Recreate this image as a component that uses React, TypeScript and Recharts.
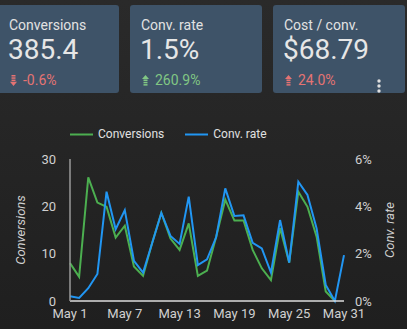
import React from "react";
import { LineChart, Line, XAxis, YAxis } from "recharts";

const days = [
  "May 1", "May 2", "May 3", "May 4", "May 5", "May 6", "May 7", "May 8",
  "May 9", "May 10", "May 11", "May 12", "May 13", "May 14", "May 15", "May 16",
  "May 17", "May 18", "May 19", "May 20", "May 21", "May 22", "May 23", "May 24",
  "May 25", "May 26", "May 27", "May 28", "May 29", "May 30", "May 31",
];

const conversions: (number | null)[] = [
  8.0, 5.1, 26.1, 20.8, 19.9, 13.4, 15.9, 7.3, 5.3, 12.3, 18.6, 13.2, 10.8, 16.4,
  5.3, 6.4, 13.5, 21.4, 17.0, 17.0, 10.8, 6.9, 4.4, 15.4, 8.1, 23.1, 19.9, 13.6,
  2.0, 0, null,
];

const convRate = [
  0.2, 0.13, 0.54, 1.14, 4.62, 3.03, 3.84, 1.7, 1.2, 2.45, 3.72, 2.75, 2.41, 4.41,
  1.52, 1.76, 2.69, 4.76, 3.59, 3.62, 2.46, 2.22, 1.2, 3.42, 1.62, 5.04, 4.48,
  3.07, 0.68, 0, 1.94,
];

const leftTicks = [0, 10, 20, 30];
const rightTicks = [0, 2, 4, 6];

const kpis = [
  { title: "Conversions", value: "385.4", delta: "-0.6%", up: false, good: false },
  { title: "Conv. rate", value: "1.5%", delta: "260.9%", up: true, good: true },
  { title: "Cost / conv.", value: "$68.79", delta: "24.0%", up: true, good: false },
];

const GREEN = "#4caf50";
const BLUE = "#2196f3";
const FONT = "Roboto, 'Noto Sans', sans-serif";

const chartData = days.map((d, i) => ({
  day: d,
  conversions: conversions[i],
  rate: convRate[i],
}));

function Arrow({ up, color }: { up: boolean; color: string }) {
  return (
    <svg width="7" height="11" viewBox="0 0 7 11" style={{ display: "block" }}>
      {up ? (
        <g fill={color}>
          <polygon points="3.5,0 7,4 0,4" />
          <rect x="1.5" y="4.5" width="4" height="1.5" />
          <rect x="1.5" y="6.8" width="4" height="1.5" />
          <rect x="1.5" y="9.1" width="4" height="1.5" />
        </g>
      ) : (
        <g fill={color}>
          <rect x="1.5" y="0" width="4" height="1.5" />
          <rect x="1.5" y="2.3" width="4" height="1.5" />
          <rect x="1.5" y="4.6" width="4" height="1.5" />
          <polygon points="0,6.8 7,6.8 3.5,11" />
        </g>
      )}
    </svg>
  );
}

const cardLefts = [-2, 130, 273];
const cardWidths = [121, 132, 132];

export default function App() {
  return (
    <div
      style={{
        position: "absolute",
        left: 0,
        top: 0,
        width: 407,
        height: 329,
        overflow: "hidden",
        background: "linear-gradient(#2a2a2a, #1f1f1f)",
        fontFamily: FONT,
      }}
    >
      {kpis.map((k, i) => {
        const c = k.good ? "#81c784" : "#e57373";
        return (
          <div
            key={k.title}
            style={{
              position: "absolute",
              left: cardLefts[i],
              top: 5,
              width: cardWidths[i],
              height: 88,
              background: "#3e5368",
              borderRadius: 3,
            }}
          >
            <div style={{ position: "absolute", left: 11, top: 13, fontSize: 14, lineHeight: "14px", color: "#e2e2e2" }}>
              {k.title}
            </div>
            <div style={{ position: "absolute", left: 10, top: 31, fontSize: 28, lineHeight: "28px", color: "#e6e6e6" }}>
              {k.value}
            </div>
            <div style={{ position: "absolute", left: 12, top: 68, display: "flex", alignItems: "center" }}>
              <Arrow up={k.up} color={c} />
              <span style={{ marginLeft: 6, fontSize: 14, lineHeight: "14px", color: c }}>{k.delta}</span>
            </div>
            {i === 2 && (
              <svg width="6" height="14" style={{ position: "absolute", left: 103, top: 74 }}>
                <circle cx="3" cy="2" r="1.7" fill="#e0e0e0" />
                <circle cx="3" cy="7" r="1.7" fill="#e0e0e0" />
                <circle cx="3" cy="12" r="1.7" fill="#e0e0e0" />
              </svg>
            )}
          </div>
        );
      })}

      <div style={{ position: "absolute", left: 70, top: 126, display: "flex", alignItems: "center", fontSize: 12, color: "#e0e0e0" }}>
        <svg width="23" height="3"><line x1="0" y1="1.5" x2="23" y2="1.5" stroke={GREEN} strokeWidth="2" /></svg>
        <span style={{ marginLeft: 5, lineHeight: "16px" }}>Conversions</span>
        <svg width="23" height="3" style={{ marginLeft: 21 }}><line x1="0" y1="1.5" x2="23" y2="1.5" stroke={BLUE} strokeWidth="2" /></svg>
        <span style={{ marginLeft: 5, lineHeight: "16px" }}>Conv. rate</span>
      </div>

      <div style={{ position: "absolute", left: 0, top: 120 }}>
        <LineChart
          width={407}
          height={209}
          data={chartData}
          margin={{ top: 39, right: 8, left: 10, bottom: 8 }}
        >
          <XAxis
            dataKey="day"
            interval={5}
            height={20}
            tickLine={false}
            tickMargin={2}
            axisLine={{ stroke: "#dddddd", strokeWidth: 1.5 }}
            tick={{ fontSize: 13, fill: "#d0d0d0", fontFamily: FONT }}
          />
          <YAxis
            yAxisId="left"
            width={60}
            domain={[0, 30]}
            ticks={leftTicks}
            tickLine={false}
            tickMargin={8}
            axisLine={{ stroke: "#9a9a9a", strokeWidth: 1.5 }}
            tick={{ fontSize: 13, fill: "#d0d0d0", fontFamily: FONT }}
            label={{
              value: "Conversions",
              angle: -90,
              position: "insideLeft",
              offset: 10,
              style: { textAnchor: "middle", fontSize: 13, fill: "#d0d0d0", fontStyle: "italic", fontFamily: FONT },
            }}
          />
          <YAxis
            yAxisId="right"
            orientation="right"
            width={55}
            domain={[0, 6]}
            ticks={rightTicks}
            tickFormatter={(v) => `${v}%`}
            tickLine={false}
            tickMargin={5}
            axisLine={false}
            tick={{ fontSize: 13, fill: "#d0d0d0", fontFamily: FONT }}
            label={{
              value: "Conv. rate",
              angle: -90,
              position: "insideRight",
              offset: 10,
              style: { textAnchor: "middle", fontSize: 13, fill: "#d0d0d0", fontStyle: "italic", fontFamily: FONT },
            }}
          />
          <Line
            yAxisId="left"
            type="linear"
            dataKey="conversions"
            stroke={GREEN}
            strokeWidth={2}
            dot={false}
            isAnimationActive={false}
          />
          <Line
            yAxisId="right"
            type="linear"
            dataKey="rate"
            stroke={BLUE}
            strokeWidth={2}
            dot={false}
            isAnimationActive={false}
          />
        </LineChart>
      </div>
    </div>
  );
}
